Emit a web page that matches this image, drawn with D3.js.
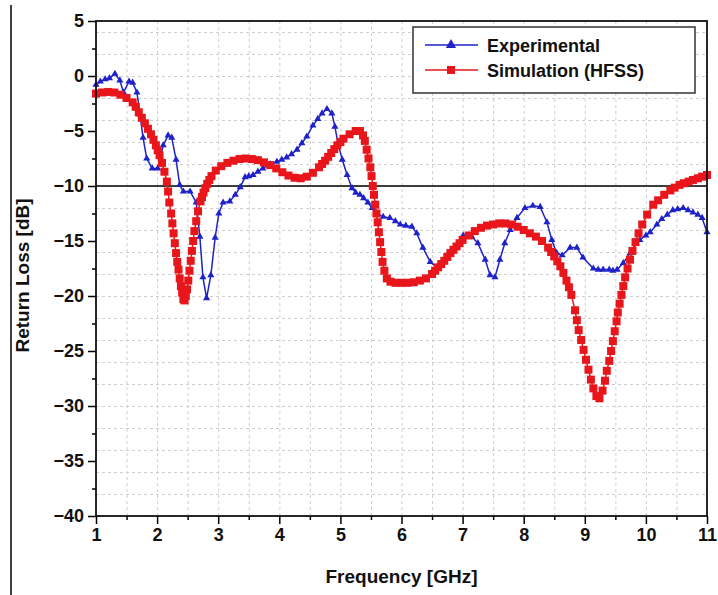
<!DOCTYPE html>
<html>
<head>
<meta charset="utf-8">
<script src="https://cdn.jsdelivr.net/npm/d3@7"></script>
<style>
  body { margin: 0; background: #fff; }
  svg { font-family: Arial, "Liberation Sans", sans-serif; font-weight: bold; }
  .grid line { stroke: #cfcfcf; stroke-dasharray: 3,3; }
</style>
</head>
<body>
<svg width="718" height="595"></svg>
<script>
// frequency [GHz] / return loss [dB]
const expFreq = [1.0,1.07,1.15,1.22,1.31,1.39,1.45,1.54,1.6,1.67,1.72,1.77,1.83,1.92,2.01,2.1,2.18,2.24,2.31,2.37,
	2.43,2.54,2.64,2.7,2.75,2.81,2.88,2.95,3.01,3.08,3.19,3.28,3.36,3.44,3.5,3.57,3.65,3.73,3.85,3.96,
	4.04,4.12,4.2,4.29,4.37,4.45,4.55,4.63,4.7,4.78,4.86,4.91,4.96,5.03,5.11,5.19,5.25,5.32,5.38,5.45,
	5.52,5.6,5.7,5.81,5.9,5.98,6.07,6.17,6.25,6.35,6.47,6.58,6.74,6.91,7.01,7.15,7.25,7.37,7.45,7.53,
	7.61,7.69,7.78,7.89,8.02,8.15,8.27,8.38,8.46,8.54,8.63,8.76,8.87,8.97,9.14,9.22,9.3,9.4,9.46,9.53,
	9.63,9.74,9.9,10.0,10.07,10.18,10.26,10.35,10.44,10.52,10.61,10.69,10.77,10.85,10.92,11.0]
const expLoss = [-0.8,-0.5,-0.3,-0.2,0.2,-0.4,-1.5,-0.5,-0.6,-1.5,-3.5,-5.6,-7.5,-8.4,-8.4,-6.3,-5.4,-5.6,-7.6,-9.9,
	-10.5,-10.5,-11.5,-14.6,-18.3,-20.2,-18.1,-14.7,-12.5,-11.5,-11.4,-10.8,-10.1,-9.2,-9.1,-9.0,-8.7,-8.4,-8.0,-7.8,
	-7.6,-7.4,-7.1,-6.7,-6.1,-5.5,-4.5,-3.9,-3.4,-3.0,-3.4,-4.6,-6.1,-7.6,-9.0,-10.2,-10.6,-10.8,-11.1,-11.5,
	-12.0,-12.5,-12.8,-12.9,-13.2,-13.5,-13.6,-13.7,-14.3,-15.6,-16.9,-17.4,-16.4,-15.5,-14.5,-14.6,-15.2,-16.7,-18.1,-18.3,
	-16.7,-15.2,-14.0,-12.9,-12.0,-11.8,-11.9,-13.3,-14.9,-16.1,-16.3,-15.6,-15.6,-16.5,-17.5,-17.6,-17.6,-17.6,-17.7,-17.6,
	-17.0,-16.1,-14.9,-14.5,-14.2,-13.5,-13.0,-12.6,-12.2,-12.1,-12.0,-12.2,-12.4,-12.6,-12.9,-14.2]

const simFreq = [1.0,1.1,1.2,1.3,1.4,1.5,1.6,1.65,1.7,1.75,1.8,1.85,1.9,1.94,1.98,2.01,2.04,2.08,2.12,2.16,
	2.18,2.2,2.23,2.25,2.27,2.29,2.31,2.33,2.35,2.37,2.39,2.41,2.43,2.45,2.47,2.49,2.51,2.53,2.55,2.57,
	2.59,2.61,2.64,2.67,2.71,2.735,2.76,2.79,2.82,2.855,2.89,2.96,3.05,3.15,3.25,3.35,3.45,3.55,3.65,3.75,
	3.85,3.95,4.05,4.15,4.25,4.35,4.45,4.55,4.65,4.7,4.75,4.8,4.85,4.9,4.95,5.0,5.05,5.15,5.25,5.32,
	5.37,5.4,5.43,5.46,5.49,5.51,5.53,5.55,5.57,5.59,5.61,5.63,5.65,5.67,5.69,5.72,5.76,5.82,5.9,6.0,
	6.1,6.2,6.3,6.4,6.5,6.55,6.6,6.65,6.7,6.75,6.8,6.85,6.9,6.95,7.0,7.1,7.2,7.3,7.4,7.5,
	7.6,7.7,7.8,7.9,8.0,8.1,8.2,8.3,8.4,8.45,8.5,8.55,8.6,8.65,8.7,8.74,8.78,8.84,8.87,8.9,
	8.94,8.98,9.02,9.06,9.1,9.14,9.19,9.24,9.29,9.33,9.36,9.4,9.43,9.46,9.49,9.52,9.54,9.57,9.6,9.63,
	9.66,9.7,9.74,9.78,9.83,9.88,9.94,10.02,10.12,10.2,10.3,10.4,10.47,10.55,10.62,10.7,10.77,10.85,10.92,11.0]
const simLoss = [-1.6,-1.5,-1.45,-1.5,-1.7,-2.0,-2.4,-2.8,-3.3,-3.8,-4.3,-4.8,-5.3,-5.8,-6.3,-6.75,-7.2,-7.9,-8.7,-9.6,
	-10.5,-11.5,-12.5,-13.4,-14.3,-15.2,-16.1,-16.9,-17.6,-18.4,-19.1,-19.7,-20.3,-20.4,-20.0,-19.4,-18.6,-17.7,-16.8,-15.9,
	-15.0,-14.1,-13.2,-12.3,-11.4,-11.0,-10.6,-10.2,-9.8,-9.45,-9.1,-8.6,-8.2,-7.9,-7.7,-7.55,-7.5,-7.55,-7.65,-7.85,
	-8.1,-8.4,-8.75,-9.05,-9.25,-9.3,-9.15,-8.8,-8.3,-8.0,-7.7,-7.35,-7.0,-6.65,-6.3,-6.0,-5.7,-5.3,-5.0,-5.0,
	-5.4,-5.9,-6.7,-7.5,-8.3,-9.1,-10.0,-10.8,-11.7,-12.5,-13.3,-14.2,-15.1,-16.0,-16.9,-17.7,-18.4,-18.7,-18.8,-18.8,
	-18.8,-18.75,-18.6,-18.4,-18.0,-17.7,-17.4,-17.1,-16.8,-16.45,-16.1,-15.8,-15.5,-15.2,-14.9,-14.5,-14.1,-13.8,-13.6,-13.5,
	-13.4,-13.4,-13.5,-13.7,-14.0,-14.3,-14.6,-15.0,-15.6,-16.0,-16.4,-16.85,-17.3,-17.9,-18.6,-19.2,-19.9,-21.3,-22.2,-23.1,
	-24.0,-24.9,-25.8,-26.7,-27.6,-28.4,-29.1,-29.3,-28.6,-27.7,-26.8,-25.9,-25.0,-24.1,-23.2,-22.3,-21.5,-20.7,-19.9,-19.1,
	-18.3,-17.5,-16.7,-15.9,-15.1,-14.3,-13.5,-12.6,-11.7,-11.3,-10.8,-10.4,-10.15,-9.9,-9.75,-9.6,-9.45,-9.3,-9.15,-9.0]

const xTicks = [1,2,3,4,5,6,7,8,9,10,11]
const yTicks = [5,0,-5,-10,-15,-20,-25,-30,-35,-40]
const refLevel = -10
const seriesNames = ["Experimental", "Simulation (HFSS)"]

var svg = d3.select("svg"),
    margin = { top: 21, right: 11, bottom: 79, left: 96 },
    width = 718 - margin.left - margin.right,
    height = 595 - margin.top - margin.bottom,
    g = svg.append("g")
           .attr("transform", "translate(" + margin.left + "," + margin.top + ")")

const blue = "#1f22c8", red = "#e8161b"

var x = d3.scaleLinear().domain([1, 11]).range([0, width])
var y = d3.scaleLinear().domain([-40, 5]).range([height, 0])

// left border from the original scan
svg.append("line")
   .attr("x1", 11).attr("x2", 11).attr("y1", 5).attr("y2", 595)
   .attr("stroke", "#000").attr("stroke-width", 1.5)

// grid lines, major and minor alike
g.append("g")
 .attr("class", "grid")
 .attr("transform", "translate(0," + height + ")")
 .call(d3.axisBottom(x).ticks(20).tickSize(-height).tickFormat(""))
 .call(s => s.select(".domain").remove())
g.append("g")
 .attr("class", "grid")
 .call(d3.axisLeft(y).ticks(18).tickSize(-width).tickFormat(""))
 .call(s => s.select(".domain").remove())

// minor ticks
g.append("g")
 .attr("transform", "translate(0," + height + ")")
 .call(d3.axisBottom(x).tickValues(d3.range(1.5, 11, 1)).tickSize(4).tickFormat(""))
 .call(s => s.select(".domain").remove())
 .selectAll("line").attr("stroke-width", 1.5)
g.append("g")
 .call(d3.axisLeft(y).tickValues(d3.range(-37.5, 5, 5)).tickSize(4).tickFormat(""))
 .call(s => s.select(".domain").remove())
 .selectAll("line").attr("stroke-width", 1.5)

// major ticks + labels
var xAxis = g.append("g")
 .attr("transform", "translate(0," + height + ")")
 .call(d3.axisBottom(x).tickValues(xTicks).tickSize(8).tickPadding(4))
xAxis.select(".domain").remove()
xAxis.selectAll("line").attr("stroke-width", 1.5)
xAxis.selectAll("text").attr("font-size", 18).attr("font-weight", "bold").attr("fill", "#111")
     .attr("font-family", "Arial, 'Liberation Sans', sans-serif")

var yAxis = g.append("g")
 .call(d3.axisLeft(y).tickValues(yTicks).tickSize(8).tickPadding(4))
yAxis.select(".domain").remove()
yAxis.selectAll("line").attr("stroke-width", 1.5)
yAxis.selectAll("text").attr("font-size", 18).attr("font-weight", "bold").attr("fill", "#111")
     .attr("font-family", "Arial, 'Liberation Sans', sans-serif")

// -10 dB reference line
g.append("line")
 .attr("x1", 0).attr("x2", width)
 .attr("y1", y(refLevel)).attr("y2", y(refLevel))
 .attr("stroke", "#000").attr("stroke-width", 1.5)

var expData = expFreq.map((f, i) => [f, expLoss[i]])
var simData = simFreq.map((f, i) => [f, simLoss[i]])

var line = d3.line().x(d => x(d[0])).y(d => y(d[1]))

// experimental: line + triangles
var tri = d3.symbol().type(d3.symbolTriangle).size(22)
g.append("path")
 .datum(expData)
 .attr("d", line)
 .attr("fill", "none").attr("stroke", blue).attr("stroke-width", 1.5)
g.selectAll(".exp-pt")
 .data(expData)
 .enter()
 .append("path")
 .attr("class", "exp-pt")
 .attr("transform", d => "translate(" + x(d[0]) + "," + y(d[1]) + ")")
 .attr("d", tri)
 .attr("fill", blue)

// simulation on top: thin line + square markers
g.append("path")
 .datum(simData)
 .attr("d", line)
 .attr("fill", "none").attr("stroke", red).attr("stroke-width", 1.5)
g.selectAll(".sim-pt")
 .data(simData)
 .enter()
 .append("rect")
 .attr("class", "sim-pt")
 .attr("x", d => x(d[0]) - 4).attr("y", d => y(d[1]) - 4)
 .attr("width", 8).attr("height", 8)
 .attr("fill", red)

// frame
g.append("rect")
 .attr("width", width).attr("height", height)
 .attr("fill", "none").attr("stroke", "#111").attr("stroke-width", 1.8)

// legend
var lg = svg.append("g").attr("transform", "translate(413,27)")
lg.append("rect")
  .attr("width", 282).attr("height", 66)
  .attr("fill", "#fff").attr("stroke", "#333").attr("stroke-width", 1.5)
var rows = [{ name: seriesNames[0], color: blue, mark: "tri" },
            { name: seriesNames[1], color: red, mark: "sq" }]
rows.forEach(function (r, i) {
	var cy = 18 + i * 25
	lg.append("line")
	  .attr("x1", 12).attr("x2", 65).attr("y1", cy).attr("y2", cy)
	  .attr("stroke", r.color).attr("stroke-width", 1.5)
	if (r.mark === "tri") {
		lg.append("path")
		  .attr("transform", "translate(38," + cy + ")")
		  .attr("d", d3.symbol().type(d3.symbolTriangle).size(45))
		  .attr("fill", r.color)
	} else {
		lg.append("rect")
		  .attr("x", 34).attr("y", cy - 4).attr("width", 8).attr("height", 8)
		  .attr("fill", r.color)
	}
	lg.append("text")
	  .attr("x", 74).attr("y", cy + 6.5)
	  .attr("font-size", 18).attr("fill", "#111")
	  .text(r.name)
})

// axis titles
svg.append("text")
   .attr("x", margin.left + width / 2).attr("y", 583)
   .attr("text-anchor", "middle").attr("font-size", 19).attr("fill", "#111")
   .text("Frequency [GHz]")
svg.append("text")
   .attr("transform", "translate(29," + (margin.top + height / 2 + 7) + ") rotate(-90)")
   .attr("text-anchor", "middle").attr("font-size", 19).attr("fill", "#111")
   .text("Return Loss [dB]")
</script>
</body>
</html>
